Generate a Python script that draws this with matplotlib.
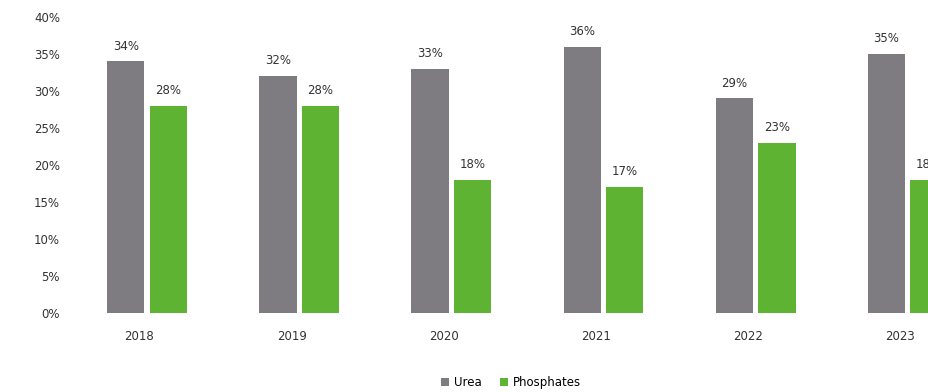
import numpy as np
import matplotlib
matplotlib.use("Agg")
import matplotlib.pyplot as plt
from matplotlib.ticker import FuncFormatter

# data
years = ["2018", "2019", "2020", "2021", "2022", "2023"]
urea = [34, 32, 33, 36, 29, 35]
phosphates = [28, 28, 18, 17, 23, 18]

fig = plt.figure(figsize=(9.29, 3.92), dpi=100)
ax = fig.add_axes([71 / 929, 79 / 392, 1 - 71 / 929, 296 / 392])

x = np.arange(len(years))
w = 0.245
off = 0.14
b1 = ax.bar(x - off, urea, w, color="#7e7c80", label="Urea")
b2 = ax.bar(x + off, phosphates, w, color="#5fb332", label="Phosphates")

for bars in (b1, b2):
    for b in bars:
        ax.text(b.get_x() + b.get_width() / 2, b.get_height() + 1.2,
                "%d%%" % b.get_height(), ha="center", va="bottom",
                fontsize=8.5, color="#333333")

ax.set_xlim(-0.5, 5.14)
ax.set_ylim(0, 40)
ax.set_yticks(range(0, 41, 5))
ax.yaxis.set_major_formatter(FuncFormatter(lambda v, p: "%d%%" % v))
ax.set_xticks(x - 0.05)
ax.set_xticklabels(years)
ax.tick_params(length=0, labelsize=8.5, colors="#333333")
ax.tick_params(axis="x", pad=12)
ax.tick_params(axis="y", pad=8)
for s in ax.spines.values():
    s.set_visible(False)

fig.legend(handles=[b1, b2], loc="lower center", bbox_to_anchor=(0.55, -0.02),
           ncol=2, frameon=False, fontsize=8.5, handlelength=0.7,
           handleheight=0.7, columnspacing=1.5, handletextpad=0.4)

fig.savefig("out.png", dpi=100)
